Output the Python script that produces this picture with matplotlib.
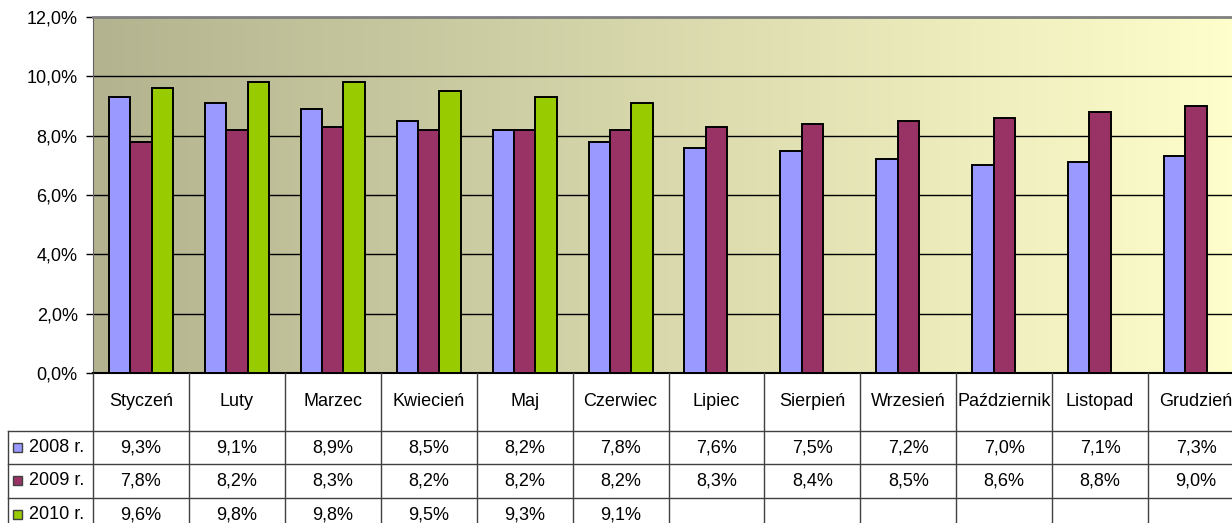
import numpy as np
import matplotlib
matplotlib.use("Agg")
import matplotlib.pyplot as plt
from matplotlib.colors import LinearSegmentedColormap
from matplotlib.transforms import blended_transform_factory
from matplotlib.patches import Rectangle

plt.rcParams['font.family'] = ['Liberation Sans', 'DejaVu Sans']

months = ["Styczeń", "Luty", "Marzec", "Kwiecień", "Maj", "Czerwiec", "Lipiec",
          "Sierpień", "Wrzesień", "Październik", "Listopad", "Grudzień"]
series_names = ["2008 r.", "2009 r.", "2010 r."]
v2008 = [9.3, 9.1, 8.9, 8.5, 8.2, 7.8, 7.6, 7.5, 7.2, 7.0, 7.1, 7.3]
v2009 = [7.8, 8.2, 8.3, 8.2, 8.2, 8.2, 8.3, 8.4, 8.5, 8.6, 8.8, 9.0]
v2010 = [9.6, 9.8, 9.8, 9.5, 9.3, 9.1]
colors = ["#9999FF", "#993366", "#99CC00"]
yticks = [0, 2, 4, 6, 8, 10, 12]

W, H = 1232, 523
fig = plt.figure(figsize=(W / 100, H / 100), dpi=100)
fig.patch.set_facecolor("white")

# plot area in pixels (extends a bit past the right edge, like the original)
left, right, top, bottom = 93, 1244, 17, 373
ax = fig.add_axes([left / W, (H - bottom) / H, (right - left) / W, (bottom - top) / H])

n = len(months)
ax.set_xlim(-0.5, n - 0.5)
ax.set_ylim(0, 12)

# gradient background
cmap = LinearSegmentedColormap.from_list("bg", ["#B3B38F", "#D9D9AD", "#FFFFCC"])
grad = np.linspace(0, 1, 256).reshape(1, -1)
ax.imshow(grad, extent=(-0.5, n - 0.5, 0, 12), aspect="auto", cmap=cmap, zorder=0)

for y in yticks[1:-1]:
    ax.axhline(y, color="black", lw=1.0, zorder=1)

bw = 1 / 4.5
all_vals = [v2008, v2009, v2010]
for k, vals in enumerate(all_vals):
    x = np.arange(len(vals)) + (k - 1) * bw
    ax.bar(x, vals, width=bw, color=colors[k], edgecolor="black", linewidth=1.4, zorder=3)

fs = 13
ax.set_yticks(yticks)
ax.set_yticklabels([f"{t:.1f}%".replace(".", ",") for t in yticks], fontsize=fs)
ax.tick_params(axis="y", length=5, width=1, color="black", pad=6)
ax.set_xticks([])
ax.spines["right"].set_visible(False)
ax.spines["top"].set_color("#808080")
ax.spines["top"].set_linewidth(2)
ax.spines["left"].set_color("#606060")
ax.spines["bottom"].set_color("black")
ax.spines["bottom"].set_linewidth(1.5)

# data table below the plot
ax_t = fig.add_axes([0, 0, 1, 1], facecolor="none")
ax_t.set_xlim(0, W)
ax_t.set_ylim(H, 0)
ax_t.axis("off")
tr = blended_transform_factory(ax.transData, ax_t.transData)

line_c = "#404040"
row_tops = [431, 464, 498]
row_h = 33.5
for yy in row_tops:
    ax_t.plot([8, W], [yy, yy], color=line_c, lw=1)
ax_t.plot([8, 8], [431, H], color=line_c, lw=1)
for i in range(n):
    ax_t.plot([i - 0.5, i - 0.5], [bottom, H], color=line_c, lw=1, transform=tr)

for i, m in enumerate(months):
    ax_t.text(i, 402, m, ha="center", va="center", fontsize=fs, transform=tr)

for k, vals in enumerate(all_vals):
    yc = row_tops[k] + row_h / 2
    ax_t.add_patch(Rectangle((13, yc - 4.5), 9, 9, facecolor=colors[k], edgecolor=line_c, lw=1))
    ax_t.text(29, yc, series_names[k], ha="left", va="center", fontsize=fs)
    for i, v in enumerate(vals):
        ax_t.text(i, yc, f"{v:.1f}%".replace(".", ","), ha="center", va="center",
                  fontsize=fs, transform=tr)

fig.savefig("out.png", dpi=100)
